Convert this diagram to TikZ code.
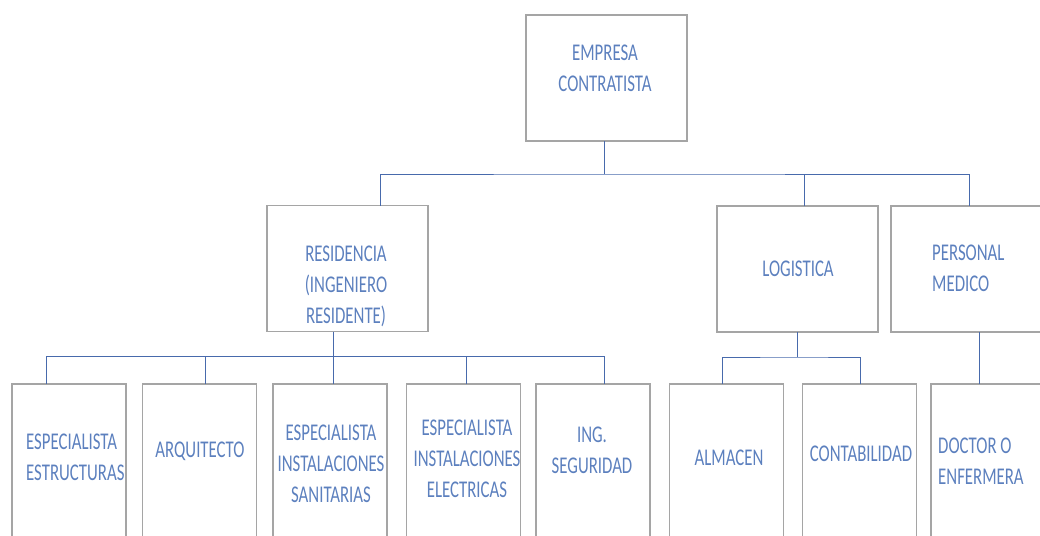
\documentclass[tikz,border=0pt]{standalone}
\usepackage{fontspec}
\setmainfont[FakeStretch=0.70]{Carlito}
\definecolor{azultexto}{RGB}{92,128,190}
\definecolor{azullinea}{RGB}{72,106,172}
\definecolor{grisborde}{RGB}{165,165,165}
\begin{document}
\begin{tikzpicture}[x=1pt, y=-1pt,
  caja/.style = {draw=grisborde, line width=1.5pt, inner sep=0pt, outer sep=0pt, minimum width=161pt, minimum height=126pt},
  cajab/.style = {caja, minimum width=114pt, minimum height=220pt},
  texto/.style = {text=azultexto, align=center, inner sep=0pt, font=\fontsize{24}{31}\selectfont},
  textoi/.style = {texto, align=left, anchor=west},
  linea/.style = {draw=azullinea, line width=1pt}]
\useasboundingbox (0,0) rectangle (1040,535);
\clip (0,0) rectangle (1040,535);

\node[caja] (emp) at (606.5,78) {};
\node[caja] (res) at (347.5,268.5) {};
\node[caja] (log) at (797.5,269) {};
\node[caja] (per) at (971.5,269) {};

\node[cajab] (b1) at (69,494) {};
\node[cajab] (b2) at (199.5,494) {};
\node[cajab] (b3) at (330,494) {};
\node[cajab] (b4) at (463.5,494) {};
\node[cajab] (b5) at (593,494) {};
\node[cajab] (b6) at (726.5,494) {};
\node[cajab] (b7) at (859.5,494) {};
\node[cajab] (b8) at (988,494) {};

\node[texto] (emp-t) at (605,68) {EMPRESA\\CONTRATISTA};
\node[texto] (res-t) at (346,286) {RESIDENCIA\\(INGENIERO\\RESIDENTE)};
\node[texto] (log-t) at (798,269) {LOGISTICA};
\node[textoi] (per-t) at (932,268) {PERSONAL\\MEDICO};
\node[textoi] (b1-t) at (26,457) {ESPECIALISTA\\ESTRUCTURAS};
\node[texto] (b2-t) at (200,451) {ARQUITECTO};
\node[texto] (b3-t) at (331,464) {ESPECIALISTA\\INSTALACIONES\\SANITARIAS};
\node[texto] (b4-t) at (467,459) {ESPECIALISTA\\INSTALACIONES\\ELECTRICAS};
\node[texto] (b5-t) at (592,450) {ING.\\SEGURIDAD};
\node[texto] (b6-t) at (729,458) {ALMACEN};
\node[texto] (b7-t) at (861,454) {CONTABILIDAD};
\node[textoi] (b8-t) at (938,461) {DOCTOR O\\ENFERMERA};

\draw[linea] ([xshift=-2]emp.south) -- ++(0,33) coordinate (j0);
\draw[linea] ([xshift=33]res.north) |- (j0) -| ([xshift=-2.5]per.north);
\draw[linea] ([xshift=7]log.north) -- ([xshift=7]log.north |- j0);

\draw[linea] ([xshift=-14.5]res.south) -- ([xshift=-14.5]res.south |- b3.north);
\path ([xshift=-14.5]res.south) -- ++(0,25) coordinate (j1);
\draw[linea] ([xshift=-23]b1.north) |- (j1) -| ([xshift=11]b5.north);
\draw[linea] ([xshift=5.5]b2.north) -- ([xshift=5.5]b2.north |- j1);
\draw[linea] ([xshift=2.5]b4.north) -- ([xshift=2.5]b4.north |- j1);

\draw[linea] ([xshift=-0.5]log.south) -- ++(0,25) coordinate (j2);
\draw[linea] ([xshift=-4.5]b6.north) |- (j2) -| ([xshift=0.5]b7.north);

\draw[linea] ([xshift=7.5]per.south) -- ([xshift=7.5]per.south |- b8.north);
\end{tikzpicture}
\end{document}
